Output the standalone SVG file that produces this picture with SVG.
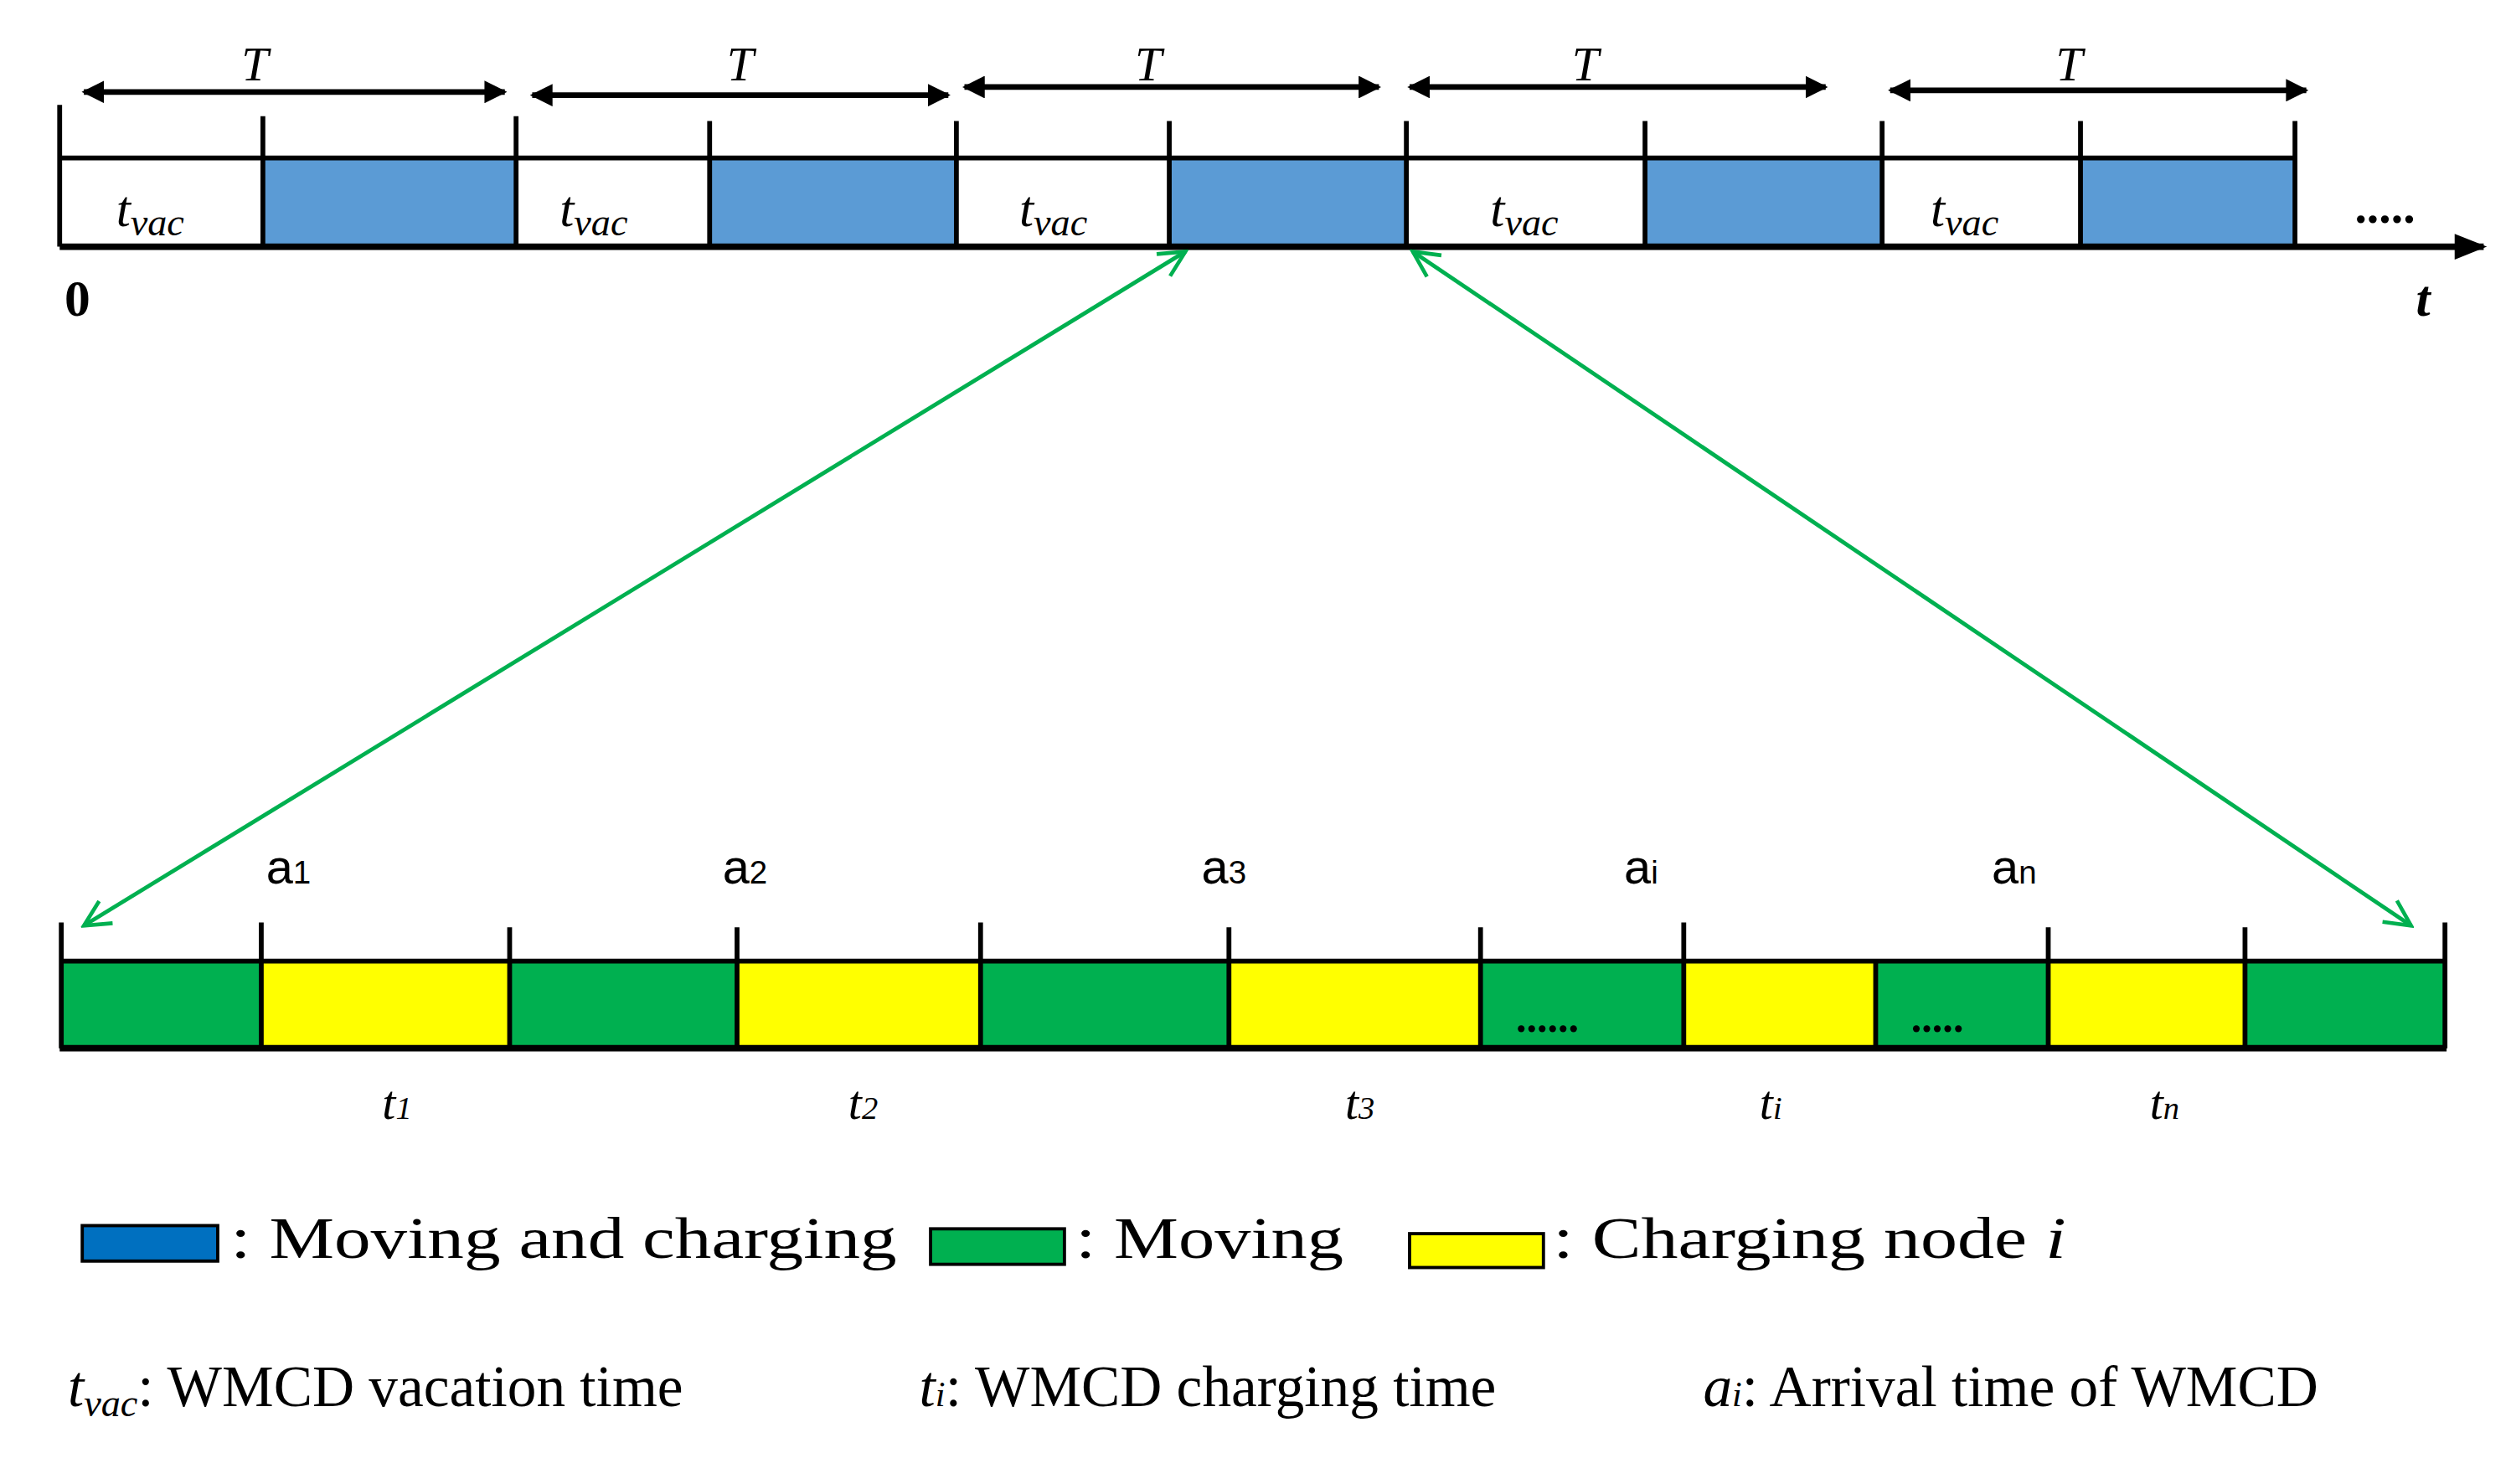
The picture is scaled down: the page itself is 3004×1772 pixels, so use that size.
<svg xmlns="http://www.w3.org/2000/svg" width="3004" height="1772" viewBox="0 0 3004 1772">
<defs>
<style>
.ln{stroke:#000;stroke-width:3;fill:none}
.ax{stroke:#000;stroke-width:4;fill:none}
.blue{fill:#5B9BD5}
.green{fill:#00B050}
.yellow{fill:#FFFF00}
.ser{font-family:"Liberation Serif",serif;fill:#000}
.it{font-style:italic}
.sans{font-family:"Liberation Sans Narrow","Liberation Sans",sans-serif;fill:#000}
.ga{stroke:#00B050;stroke-width:2.5;fill:none;marker-start:url(#gh);marker-end:url(#gh)}
.ta{stroke:#000;stroke-width:3.5;fill:none;marker-start:url(#bh);marker-end:url(#bh)}
</style>
<marker id="bh" viewBox="0 0 10 10" refX="9" refY="5" markerWidth="4" markerHeight="4" orient="auto-start-reverse" markerUnits="strokeWidth"><path d="M0,0 L10,5 L0,10 Z" fill="#000"/></marker>
<marker id="gh" viewBox="0 0 10 10" refX="9" refY="5" markerWidth="8" markerHeight="8" orient="auto-start-reverse" markerUnits="strokeWidth"><path d="M1,1 L9,5 L1,9" fill="none" stroke="#00B050" stroke-width="1.2"/></marker>
<marker id="ah" viewBox="0 0 10 10" refX="9" refY="5" markerWidth="6" markerHeight="5" orient="auto" markerUnits="strokeWidth"><path d="M0,1 L10,5 L0,9 Z" fill="#000"/></marker>
</defs>
<rect width="3004" height="1772" fill="#fff"/>
<g transform="scale(1.9256)">
<g id="top-timeline">
<rect class="blue" x="163" y="98" width="157" height="55"/>
<rect class="blue" x="440" y="98" width="153" height="55"/>
<rect class="blue" x="725" y="98" width="147" height="55"/>
<rect class="blue" x="1020" y="98" width="147" height="55"/>
<rect class="blue" x="1290" y="98" width="133" height="55"/>
<line class="ln" x1="37" y1="98" x2="1423" y2="98"/>
<line class="ax" x1="37" y1="153" x2="1540" y2="153" marker-end="url(#ah)"/>
<path class="ln" d="M37,65V153 M163,72V153 M320,72V153 M440,75V153 M593,75V153 M725,75V153 M872,75V153 M1020,75V153 M1167,75V153 M1290,75V153 M1423,75V153"/>
<g class="ser it" font-size="30" text-anchor="middle">
<text x="158" y="50">T</text><text x="459" y="50">T</text><text x="712" y="50">T</text><text x="983" y="50">T</text><text x="1283" y="50">T</text>
</g>
<g class="ser it" font-size="32">
<text x="72" y="140">t<tspan font-size="24" dy="6">vac</tspan></text>
<text x="347" y="140">t<tspan font-size="24" dy="6">vac</tspan></text>
<text x="632" y="140">t<tspan font-size="24" dy="6">vac</tspan></text>
<text x="924" y="140">t<tspan font-size="24" dy="6">vac</tspan></text>
<text x="1197" y="140">t<tspan font-size="24" dy="6">vac</tspan></text>
</g>
<text class="ser" x="40" y="196" font-size="32" font-weight="bold">0</text>
<text class="ser it" x="1498" y="196" font-size="32" font-weight="bold">t</text>
<text class="ser" x="1460" y="138" font-size="30" font-weight="bold">.....</text>
</g>
<g id="T-arrows">
<line class="ta" x1="52" y1="57" x2="313" y2="57"/>
<line class="ta" x1="330" y1="59" x2="588" y2="59"/>
<line class="ta" x1="598" y1="54" x2="855" y2="54"/>
<line class="ta" x1="874" y1="54" x2="1132" y2="54"/>
<line class="ta" x1="1172" y1="56" x2="1430" y2="56"/>
</g>
<g id="bottom-timeline">
<rect class="green" x="37" y="596" width="125" height="54"/>
<rect class="yellow" x="162" y="596" width="154" height="54"/>
<rect class="green" x="316" y="596" width="141" height="54"/>
<rect class="yellow" x="457" y="596" width="151" height="54"/>
<rect class="green" x="608" y="596" width="154" height="54"/>
<rect class="yellow" x="762" y="596" width="156" height="54"/>
<rect class="green" x="918" y="596" width="126" height="54"/>
<rect class="yellow" x="1044" y="596" width="119" height="54"/>
<rect class="green" x="1163" y="596" width="107" height="54"/>
<rect class="yellow" x="1270" y="596" width="122" height="54"/>
<rect class="green" x="1392" y="596" width="125" height="54"/>
<line class="ln" x1="37" y1="596" x2="1517" y2="596"/>
<line class="ax" x1="37" y1="650" x2="1517" y2="650"/>
<path class="ln" d="M38,572V650 M162,572V650 M316,575V650 M457,575V650 M608,572V650 M762,575V650 M918,575V650 M1044,572V650 M1163,596V650 M1270,575V650 M1392,575V650 M1516,572V650"/>
<text class="ser" x="940" y="640" font-size="26" font-weight="bold">......</text>
<text class="ser" x="1185" y="640" font-size="26" font-weight="bold">.....</text>
<g class="sans" font-size="30">
<text x="165" y="548">a<tspan font-size="20">1</tspan></text>
<text x="448" y="548">a<tspan font-size="20">2</tspan></text>
<text x="745" y="548">a<tspan font-size="20">3</tspan></text>
<text x="1007" y="548">a<tspan font-size="20">i</tspan></text>
<text x="1235" y="548">a<tspan font-size="20">n</tspan></text>
</g>
<g class="ser it" font-size="30">
<text x="237" y="694">t<tspan font-size="20">1</tspan></text>
<text x="526" y="694">t<tspan font-size="20">2</tspan></text>
<text x="834" y="694">t<tspan font-size="20">3</tspan></text>
<text x="1091" y="694">t<tspan font-size="20">i</tspan></text>
<text x="1333" y="694">t<tspan font-size="20">n</tspan></text>
</g>
</g>
<g id="connectors">
<line class="ga" x1="735" y1="156" x2="52" y2="574"/>
<line class="ga" x1="876" y1="156" x2="1495" y2="574"/>
</g>
<g id="legend">
<rect x="51" y="760" width="84" height="22" fill="#0070C0" stroke="#000" stroke-width="2"/>
<rect x="577" y="762" width="83" height="22" fill="#00B050" stroke="#000" stroke-width="2"/>
<rect x="874" y="765" width="83" height="21" fill="#FFFF00" stroke="#000" stroke-width="2"/>
<g class="ser" font-size="36">
<text x="143" y="780" textLength="413" lengthAdjust="spacingAndGlyphs">: Moving and charging</text>
<text x="667" y="780" textLength="166" lengthAdjust="spacingAndGlyphs">: Moving</text>
<text x="963" y="780" textLength="318" lengthAdjust="spacingAndGlyphs">: Charging node <tspan class="it">i</tspan></text>
<text x="42" y="872"><tspan class="it">t<tspan font-size="24" dy="6">vac</tspan></tspan><tspan dy="-6">: WMCD vacation time</tspan></text>
<text x="570" y="872"><tspan class="it">t<tspan font-size="22">i</tspan></tspan>: WMCD charging time</text>
<text x="1056" y="872"><tspan class="it">a<tspan font-size="22">i</tspan></tspan>: Arrival time of WMCD</text>
</g>
</g>
</g>
</svg>
